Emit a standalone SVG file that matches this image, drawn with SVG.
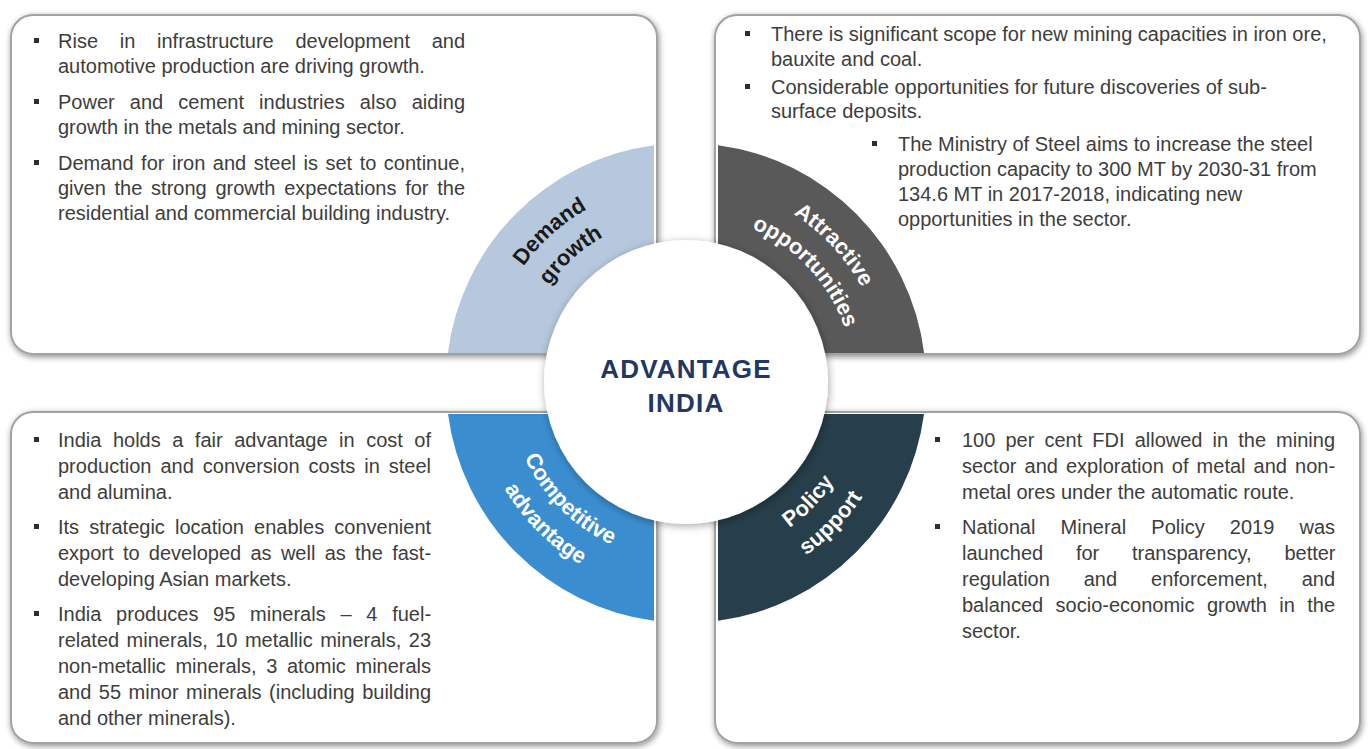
<svg xmlns="http://www.w3.org/2000/svg" xmlns:xlink="http://www.w3.org/1999/xlink" width="1368" height="749" viewBox="0 0 1368 749">
  <style>
    .box { fill: #ffffff; stroke: #a2a2a2; stroke-width: 2; filter: url(#boxShadow); }
    .body { font-family: "Liberation Sans", Arial, sans-serif; font-size: 20px; fill: #3d3d3d; }
    .bullet { fill: #2e2e2e; }
    .seg-label { font-family: "Liberation Sans", Arial, sans-serif; font-size: 22px; font-weight: bold; }
    .dark { fill: #1a1a1a; }
    .light { fill: #ffffff; }
    .hub-text { font-family: "Liberation Sans", Arial, sans-serif; font-size: 26px; font-weight: bold; fill: #1f3864; letter-spacing: 1.2px; text-anchor: middle; }
  </style>
  <defs>
    <filter id="boxShadow" x="-5%" y="-5%" width="110%" height="110%">
      <feGaussianBlur in="SourceAlpha" stdDeviation="3"/>
      <feOffset dx="1" dy="2" result="blur"/>
      <feComponentTransfer><feFuncA type="linear" slope="0.45"/></feComponentTransfer>
      <feMerge><feMergeNode/><feMergeNode in="SourceGraphic"/></feMerge>
    </filter>
    <filter id="hubShadow" x="-20%" y="-20%" width="140%" height="140%">
      <feDropShadow dx="1" dy="2" stdDeviation="4" flood-color="#000" flood-opacity="0.35"/>
    </filter>
    <rect id="sq" width="5" height="5" class="bullet"/>
    <!-- label baselines, concentric with the ring centre (686,383) -->
    <path id="arcDemand" d="M486.27,372.53 A200,200 0 0 1 696.47,183.27"/>
    <path id="arcGrowth" d="M518.23,374.21 A168,168 0 0 1 694.79,215.23"/>
    <path id="arcAttractive" d="M692.98,183.12 A200,200 0 0 1 885.88,389.98"/>
    <path id="arcOpport" d="M691.86,215.1 A168,168 0 0 1 853.9,388.86"/>
    <path id="arcCompetitive" d="M508,383 A178,178 0 0 0 686,561"/>
    <path id="arcAdvantage" d="M476,383 A210,210 0 0 0 686,593"/>
    <path id="arcPolicy" d="M689.11,560.97 A178,178 0 0 0 863.97,379.89"/>
    <path id="arcSupport" d="M689.66,592.97 A210,210 0 0 0 895.97,379.34"/>
  </defs>

  <rect width="1368" height="749" fill="#ffffff"/>

  <!-- Demand growth panel -->
  <g id="panel-demand">
    <rect class="box" x="11" y="15" width="646" height="339" rx="22"/>
    <use href="#sq" x="34" y="38"/>
    <use href="#sq" x="34" y="99"/>
    <use href="#sq" x="34" y="160"/>
    <text class="body" x="58" y="48" word-spacing="16.16">Rise in infrastructure development and</text>
    <text class="body" x="58" y="73">automotive production are driving growth.</text>
    <text class="body" x="58" y="109" word-spacing="9.59">Power and cement industries also aiding</text>
    <text class="body" x="58" y="134">growth in the metals and mining sector.</text>
    <text class="body" x="58" y="170" word-spacing="1.96">Demand for iron and steel is set to continue,</text>
    <text class="body" x="58" y="195" word-spacing="3.17">given the strong growth expectations for the</text>
    <text class="body" x="58" y="220">residential and commercial building industry.</text>
  </g>

  <!-- Attractive opportunities panel -->
  <g id="panel-opportunities">
    <rect class="box" x="715" y="15" width="645" height="339" rx="22"/>
    <use href="#sq" x="745" y="31"/>
    <use href="#sq" x="745" y="84"/>
    <use href="#sq" x="872" y="141"/>
    <text class="body" x="771" y="41">There is significant scope for new mining capacities in iron ore,</text>
    <text class="body" x="771" y="66">bauxite and coal.</text>
    <text class="body" x="771" y="94">Considerable opportunities for future discoveries of sub-</text>
    <text class="body" x="771" y="118">surface deposits.</text>
    <text class="body" x="898" y="151">The Ministry of Steel aims to increase the steel</text>
    <text class="body" x="898" y="176">production capacity to 300 MT by 2030-31 from</text>
    <text class="body" x="898" y="201">134.6 MT in 2017-2018, indicating new</text>
    <text class="body" x="898" y="226">opportunities in the sector.</text>
  </g>

  <!-- Competitive advantage panel -->
  <g id="panel-competitive">
    <rect class="box" x="11" y="412" width="646" height="331" rx="22"/>
    <use href="#sq" x="34" y="437"/>
    <use href="#sq" x="34" y="524"/>
    <use href="#sq" x="34" y="611"/>
    <text class="body" x="58" y="447" word-spacing="5.96">India holds a fair advantage in cost of</text>
    <text class="body" x="58" y="473" word-spacing="3.46">production and conversion costs in steel</text>
    <text class="body" x="58" y="499">and alumina.</text>
    <text class="body" x="58" y="534" word-spacing="4.6">Its strategic location enables convenient</text>
    <text class="body" x="58" y="560" word-spacing="3.74">export to developed as well as the fast-</text>
    <text class="body" x="58" y="586">developing Asian markets.</text>
    <text class="body" x="58" y="621" word-spacing="9.18">India produces 95 minerals – 4 fuel-</text>
    <text class="body" x="58" y="647" word-spacing="1.91">related minerals, 10 metallic minerals, 23</text>
    <text class="body" x="58" y="673" word-spacing="4.07">non-metallic minerals, 3 atomic minerals</text>
    <text class="body" x="58" y="699" word-spacing="1.91">and 55 minor minerals (including building</text>
    <text class="body" x="58" y="725">and other minerals).</text>
  </g>

  <!-- Policy support panel -->
  <g id="panel-policy">
    <rect class="box" x="715" y="412" width="645" height="331" rx="22"/>
    <use href="#sq" x="935" y="437"/>
    <use href="#sq" x="935" y="524"/>
    <text class="body" x="962" y="447" word-spacing="4.53">100 per cent FDI allowed in the mining</text>
    <text class="body" x="962" y="473" word-spacing="2.51">sector and exploration of metal and non-</text>
    <text class="body" x="962" y="499">metal ores under the automatic route.</text>
    <text class="body" x="962" y="534" word-spacing="19.62">National Mineral Policy 2019 was</text>
    <text class="body" x="962" y="560" word-spacing="27.17">launched for transparency, better</text>
    <text class="body" x="962" y="586" word-spacing="28.35">regulation and enforcement, and</text>
    <text class="body" x="962" y="612" word-spacing="6.83">balanced socio-economic growth in the</text>
    <text class="body" x="962" y="638">sector.</text>
  </g>

  <!-- ring quarters around the hub -->
  <g id="ring">
    <g id="seg-demand">
      <path d="M654,145.14 A240,240 0 0 0 447.88,353 L549.25,353 A140,140 0 0 1 654,246.71 Z" fill="#b6c8dd"/>
      <text class="seg-label dark"><textPath href="#arcDemand" startOffset="50%" text-anchor="middle">Demand</textPath></text>
      <text class="seg-label dark"><textPath href="#arcGrowth" startOffset="50%" text-anchor="middle">growth</textPath></text>
    </g>
    <g id="seg-opportunities">
      <path d="M718,145.14 A240,240 0 0 1 924.12,353 L822.75,353 A140,140 0 0 0 718,246.71 Z" fill="#595959"/>
      <text class="seg-label light"><textPath href="#arcAttractive" startOffset="50%" text-anchor="middle">Attractive</textPath></text>
      <text class="seg-label light"><textPath href="#arcOpport" startOffset="50%" text-anchor="middle">opportunities</textPath></text>
    </g>
    <g id="seg-competitive">
      <path d="M448.01,414 A240,240 0 0 0 654,620.86 L654,519.29 A140,140 0 0 1 549.48,414 Z" fill="#3a8ed0"/>
      <text class="seg-label light"><textPath href="#arcCompetitive" startOffset="50%" text-anchor="middle">Competitive</textPath></text>
      <text class="seg-label light"><textPath href="#arcAdvantage" startOffset="50%" text-anchor="middle">advantage</textPath></text>
    </g>
    <g id="seg-policy">
      <path d="M923.99,414 A240,240 0 0 1 718,620.86 L718,519.29 A140,140 0 0 0 822.52,414 Z" fill="#263f4a"/>
      <text class="seg-label light"><textPath href="#arcPolicy" startOffset="50%" text-anchor="middle">Policy</textPath></text>
      <text class="seg-label light"><textPath href="#arcSupport" startOffset="50%" text-anchor="middle">support</textPath></text>
    </g>
  </g>

  <!-- central hub -->
  <g id="hub">
    <circle cx="686" cy="382" r="142" fill="#ffffff" filter="url(#hubShadow)"/>
    <text class="hub-text" x="686" y="378">ADVANTAGE</text>
    <text class="hub-text" x="686" y="412">INDIA</text>
  </g>

  <g id="connectors"/>
</svg>
